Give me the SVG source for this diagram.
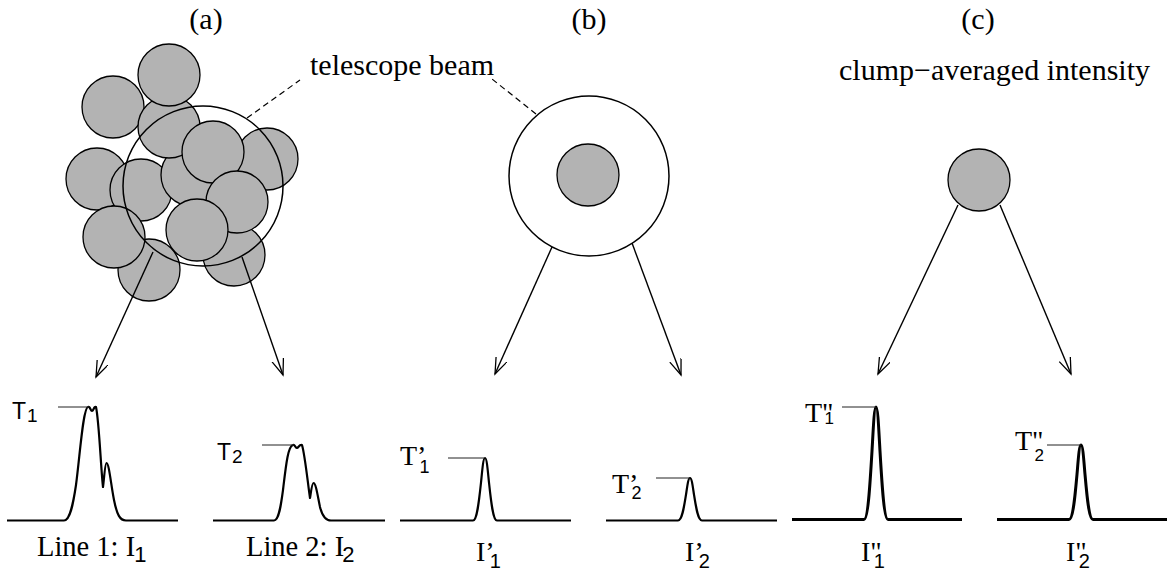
<svg xmlns="http://www.w3.org/2000/svg" width="1167" height="574" viewBox="0 0 1167 574">
<style>
.clump{fill:#b3b3b3;stroke:#000;stroke-width:1.3}
.beam{fill:none;stroke:#000;stroke-width:1.5}
.beamw{fill:#fff;stroke:#000;stroke-width:1.5}
.arrow{fill:none;stroke:#000;stroke-width:1.4;marker-end:url(#ah)}
.dash{fill:none;stroke:#000;stroke-width:1.2;stroke-dasharray:6,4}
.spec{fill:none;stroke:#000;stroke-width:2.2;stroke-linejoin:round}
.spec2{fill:none;stroke:#000;stroke-width:3;stroke-linejoin:round}
.tick{stroke:#222;stroke-width:1}
.serif{font-family:"Liberation Serif","Times New Roman",serif;fill:#000}
.sans{font-family:"Liberation Sans",Arial,sans-serif;fill:#000}
.lab{font-size:30px}
</style>
<defs>
<marker id="ah" markerUnits="userSpaceOnUse" markerWidth="20" markerHeight="14" refX="16" refY="6" orient="auto">
<path d="M0,0 L16,6 L0,12" fill="none" stroke="#000" stroke-width="1.3"/>
</marker>
</defs>

<g id="titles">
<text class="serif lab" x="206" y="29" text-anchor="middle">(a)</text>
<text class="serif lab" x="589" y="29" text-anchor="middle">(b)</text>
<text class="serif lab" x="978" y="29" text-anchor="middle">(c)</text>
<text class="serif lab" x="310" y="75">telescope beam</text>
<text class="serif lab" x="839" y="80">clump−averaged intensity</text>
</g>

<g id="node-a-clumps">
<circle class="clump" cx="97" cy="179" r="31"/>
<circle class="clump" cx="113" cy="107" r="31"/>
<circle class="clump" cx="267" cy="159" r="31"/>
<circle class="clump" cx="141" cy="190" r="31"/>
<circle class="clump" cx="192" cy="175" r="31"/>
<circle class="clump" cx="169" cy="127" r="31"/>
<circle class="clump" cx="169" cy="75" r="31"/>
<circle class="clump" cx="213" cy="152" r="31"/>
<circle class="clump" cx="234" cy="255" r="31"/>
<circle class="clump" cx="237" cy="202" r="31"/>
<circle class="clump" cx="149" cy="270" r="31"/>
<circle class="clump" cx="114" cy="237" r="31"/>
<circle class="clump" cx="197" cy="230" r="31"/>
<circle class="beam" cx="203" cy="186" r="80"/>
</g>

<g id="node-b-beam">
<circle class="beamw" cx="589" cy="176" r="80"/>
<circle class="clump" cx="588" cy="175" r="31"/>
</g>

<g id="node-c-clump">
<circle class="clump" cx="979" cy="180" r="31"/>
</g>

<g id="connectors">
<line class="dash" x1="247" y1="118" x2="300" y2="80"/>
<line class="dash" x1="536" y1="114" x2="492" y2="79"/>
<line class="arrow" x1="153" y1="252" x2="96" y2="377"/>
<line class="arrow" x1="242" y1="257" x2="283" y2="375"/>
<line class="arrow" x1="552" y1="247" x2="495" y2="374"/>
<line class="arrow" x1="632" y1="243" x2="681" y2="375"/>
<line class="arrow" x1="958" y1="205" x2="878" y2="374"/>
<line class="arrow" x1="1000" y1="205" x2="1071" y2="374"/>
</g>

<g id="spectrum-1">
<path class="spec" d="M7,520.5 H64 C70,520.5 73,505 76,485 C80,455 83,408 88,407 C90,406 90.5,411 92,411 C93.5,411 94,406 96,407 C99,420 101,470 103,487 C104,480 105,463 106.5,463 C109,463 111,485 114,500 C117,515 120,520.5 126,520.5 H178"/>
<line class="tick" x1="58" y1="407" x2="89" y2="407"/>
<text class="sans" font-size="23" x="12" y="419">T<tspan font-size="19" dy="3" dx="1">1</tspan></text>
<text class="serif" font-size="28.5" x="37" y="556">Line 1: I<tspan class="sans" font-size="22" dy="6" dx="-1">1</tspan></text>
</g>

<g id="spectrum-2">
<path class="spec" d="M213,520.5 H274 C279,520.5 281,505 283,490 C286,465 288,446 293,445 C295,444.5 295.5,448 297,448 C298.5,448 299,444.5 302,445 C305,455 308,485 310,498 C311,492 312,483 313.5,483 C316,483 318,498 320,507 C322,515 325,520.5 331,520.5 H385"/>
<line class="tick" x1="262" y1="445" x2="294" y2="445"/>
<text class="sans" font-size="23" x="217" y="460">T<tspan font-size="19" dy="3" dx="1">2</tspan></text>
<text class="serif" font-size="28.5" x="246" y="556">Line 2: I<tspan class="sans" font-size="22" dy="6" dx="-2">2</tspan></text>
</g>

<g id="spectrum-3">
<path class="spec" d="M400,520.5 H473 C477,520.5 479,501.5 481,482.6 C482.3,469.9 483.2,458 485,458 C486.8,458 487.7,469.9 489,482.6 C491,501.5 493,520.5 497,520.5 H571"/>
<line class="tick" x1="448" y1="458" x2="484" y2="458"/>
<text class="serif" font-size="28" x="400" y="465">T’<tspan class="sans" font-size="18" dx="-7" dy="8">1</tspan></text>
<text class="serif" font-size="28" x="476" y="561">I’<tspan class="sans" font-size="20" dx="-5" dy="7">1</tspan></text>
</g>

<g id="spectrum-4">
<path class="spec" d="M606,520.5 H678 C682,520.5 684,507.6 686,494.7 C687.3,486.1 688.2,478 690,478 C691.8,478 692.7,486.1 694,494.7 C696,507.6 698,520.5 702,520.5 H777"/>
<line class="tick" x1="656" y1="478" x2="690" y2="478"/>
<text class="serif" font-size="28" x="612" y="493">T’<tspan class="sans" font-size="18" dx="-7" dy="6">2</tspan></text>
<text class="serif" font-size="28" x="685" y="561">I’<tspan class="sans" font-size="20" dx="-5" dy="7">2</tspan></text>
</g>

<g id="spectrum-5">
<path class="spec2" d="M792,519.5 H864 C868,519.5 870,485.4 872,451.2 C873.3,428.5 874.2,407 876,407 C877.8,407 878.7,428.5 880,451.2 C882,485.4 884,519.5 888,519.5 H962"/>
<line class="tick" x1="842" y1="407" x2="876" y2="407"/>
<text class="serif" font-size="28" x="805" y="422">T"<tspan class="sans" font-size="17" dx="-9" dy="2">1</tspan></text>
<text class="serif" font-size="28" x="861" y="561">I"<tspan class="sans" font-size="20" dx="-8" dy="7">1</tspan></text>
</g>

<g id="spectrum-6">
<path class="spec2" d="M997,519.5 H1069 C1073,519.5 1075,496.9 1077,474.3 C1078.3,459.2 1079.2,445 1081,445 C1082.8,445 1083.7,459.2 1085,474.3 C1087,496.9 1089,519.5 1093,519.5 H1167"/>
<line class="tick" x1="1047" y1="445" x2="1081" y2="445"/>
<text class="serif" font-size="28" x="1015" y="450">T"<tspan class="sans" font-size="17" dx="-9" dy="11">2</tspan></text>
<text class="serif" font-size="28" x="1066" y="561">I"<tspan class="sans" font-size="20" dx="-8" dy="7">2</tspan></text>
</g>
</svg>
